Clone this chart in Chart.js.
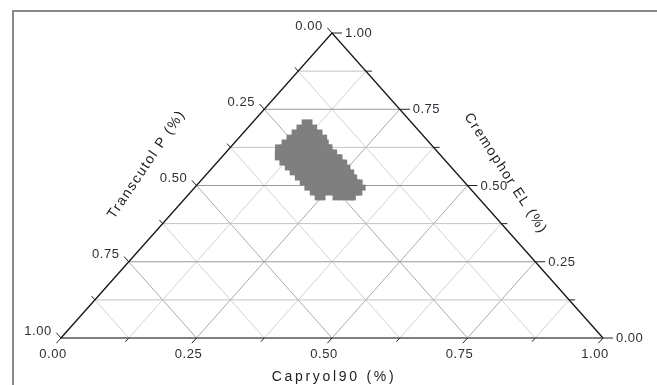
<!DOCTYPE html>
<html>
<head>
<meta charset="utf-8">
<script src="https://cdn.jsdelivr.net/npm/chart.js@4.4.1/dist/chart.umd.min.js"></script>
<style>
  html, body { margin: 0; padding: 0; background: #fff; }
  #wrap { position: relative; width: 657px; height: 385px; overflow: hidden; }
  #frame { position: absolute; left: 12px; top: 10px; width: 700px; height: 400px;
           border-top: 2px solid #8a8a8a; border-left: 2px solid #8a8a8a; }
  canvas { position: absolute; left: 0; top: 0; }
</style>
</head>
<body>
<div id="wrap">
  <div id="frame"></div>
  <canvas id="grafico" width="657" height="385"></canvas>
</div>
<script>
// ternary axes: Capryol90 (bottom), Transcutol P (left), Cremophor EL (right)
const majorTicks = [0, 0.25, 0.5, 0.75, 1];
const minorTicks = [0.125, 0.375, 0.625, 0.875];
const tickLabels = ['0.00', '0.25', '0.50', '0.75', '1.00'];

// region of compositions, one row per Cremophor EL level
const cremophorRows = [0.707, 0.690, 0.674, 0.657, 0.641, 0.625, 0.608, 0.592,
                       0.575, 0.559, 0.543, 0.526, 0.510, 0.493, 0.477, 0.461];
const capryolRows = [
  [0.096, 0.105],
  [0.095, 0.104, 0.113, 0.122],
  [0.094, 0.103, 0.112, 0.121, 0.130, 0.140],
  [0.093, 0.102, 0.111, 0.120, 0.130, 0.139, 0.148, 0.157],
  [0.092, 0.101, 0.110, 0.119, 0.129, 0.138, 0.147, 0.156, 0.165, 0.168],
  [0.088, 0.097, 0.106, 0.115, 0.124, 0.134, 0.143, 0.152, 0.161, 0.171, 0.180, 0.183],
  [0.096, 0.105, 0.114, 0.123, 0.133, 0.142, 0.151, 0.160, 0.169, 0.179, 0.188, 0.197, 0.200],
  [0.104, 0.113, 0.122, 0.131, 0.141, 0.150, 0.159, 0.168, 0.178, 0.187, 0.196, 0.205, 0.215, 0.218],
  [0.121, 0.130, 0.140, 0.149, 0.158, 0.167, 0.177, 0.186, 0.195, 0.204, 0.213, 0.223, 0.232, 0.235],
  [0.139, 0.148, 0.157, 0.166, 0.176, 0.185, 0.194, 0.203, 0.212, 0.222, 0.231, 0.240, 0.249],
  [0.156, 0.165, 0.175, 0.184, 0.193, 0.202, 0.211, 0.221, 0.230, 0.239, 0.248, 0.258, 0.264],
  [0.174, 0.183, 0.192, 0.201, 0.210, 0.220, 0.229, 0.238, 0.247, 0.257, 0.266, 0.275, 0.278],
  [0.191, 0.200, 0.209, 0.219, 0.228, 0.237, 0.246, 0.256, 0.265, 0.274, 0.283, 0.292, 0.296],
  [0.208, 0.218, 0.227, 0.236, 0.245, 0.254, 0.264, 0.273, 0.282, 0.291, 0.301, 0.310],
  [0.226, 0.235, 0.244, 0.253, 0.263, 0.272, 0.281, 0.290, 0.300, 0.309, 0.312],
  [0.243, 0.252, 0.276, 0.286, 0.295, 0.304, 0.308]
];

// capryol c, cremophor r -> cartesian (transcutol = 1 - c - r)
function xy(c, r) { return { x: c + r / 2, y: r }; }
const gap = { x: null, y: null };

var regiao = [];
capryolRows.forEach(function(row, i) {
  row.forEach(function(c) { regiao.push(xy(c, cremophorRows[i])); });
});

function linhasHorizontais(vals) {
  var pts = [];
  vals.forEach(function(v) { pts.push(xy(0, v), xy(1 - v, v), gap); });
  return pts;
}
function linhasDiagonais(vals) {
  var pts = [];
  vals.forEach(function(v) {
    pts.push(xy(v, 0), xy(v, 1 - v), gap);      // constant Capryol90
    pts.push(xy(1 - v, 0), xy(0, 1 - v), gap);  // constant Transcutol P
  });
  return pts;
}
const innerMajor = majorTicks.filter(function(v) { return v > 0 && v < 1; });

const ternaryAxes = {
  id: 'ternaryAxes',
  afterDatasetsDraw: function(chart) {
    const ctx = chart.ctx;
    const sx = chart.scales.x, sy = chart.scales.y;
    const px = function(c, r) { return [sx.getPixelForValue(c + r / 2), sy.getPixelForValue(r)]; };
    const bl = px(0, 0), br = px(1, 0), ap = px(0, 1);
    var lx = ap[0] - bl[0], ly = ap[1] - bl[1], ll = Math.hypot(lx, ly); lx /= ll; ly /= ll;
    var rx = br[0] - ap[0], ry = br[1] - ap[1], rl = Math.hypot(rx, ry); rx /= rl; ry /= rl;

    ctx.save();
    ctx.strokeStyle = '#222';
    ctx.lineWidth = 1;
    const all = majorTicks.concat(minorTicks);
    all.forEach(function(v) {
      const major = majorTicks.indexOf(v) >= 0;
      const len = major ? 7 : 5;
      // bottom: Capryol90
      var p = px(v, 0);
      ctx.beginPath(); ctx.moveTo(p[0], p[1]); ctx.lineTo(p[0] - lx * len, p[1] - ly * len); ctx.stroke();
      // left: Transcutol P
      p = px(0, 1 - v);
      ctx.beginPath(); ctx.moveTo(p[0], p[1]); ctx.lineTo(p[0] - rx * len, p[1] - ry * len); ctx.stroke();
      // right: Cremophor EL
      p = px(1 - v, v);
      ctx.beginPath(); ctx.moveTo(p[0], p[1]); ctx.lineTo(p[0] + (major ? 10 : 6), p[1]); ctx.stroke();
    });

    ctx.fillStyle = '#2e2e36';
    ctx.font = '13px "Liberation Sans", Arial, sans-serif';
    ctx.letterSpacing = '0.5px';
    ctx.textBaseline = 'middle';
    majorTicks.forEach(function(v, i) {
      var p = px(v, 0);
      ctx.textAlign = 'center';
      ctx.fillText(tickLabels[i], p[0] - 8, p[1] + 16);
      p = px(0, 1 - v);
      ctx.fillText(tickLabels[i], p[0] - 23, p[1] - 7);
      p = px(1 - v, v);
      ctx.textAlign = 'left';
      ctx.fillText(tickLabels[i], p[0] + 13, p[1] + 0.5);
    });

    ctx.fillStyle = '#222';
    ctx.font = '14px "Liberation Sans", Arial, sans-serif';
    ctx.textAlign = 'center';
    ctx.letterSpacing = '2.7px';
    ctx.fillText('Capryol90 (%)', (bl[0] + br[0]) / 2 + 2, bl[1] + 39);

    ctx.letterSpacing = '1.5px';
    var m = px(0, 0.5);
    ctx.save();
    ctx.translate(m[0] - 50, m[1] - 21);
    ctx.rotate(-56 * Math.PI / 180);
    ctx.fillText('Transcutol P (%)', 0, 0);
    ctx.restore();

    m = px(0.5, 0.5);
    ctx.save();
    ctx.translate(m[0] + 38, m[1] - 12);
    ctx.rotate(57 * Math.PI / 180);
    ctx.fillText('Cremophor EL (%)', 0, 0);
    ctx.restore();
    ctx.restore();
  }
};

const linha = function(data, cor, largura, ordem) {
  return { data: data, showLine: true, spanGaps: false, borderColor: cor, borderWidth: largura,
           pointRadius: 0, fill: false, clip: false, order: ordem };
};

let chart = new Chart(document.getElementById('grafico'), {
  type: 'scatter',
  data: {
    datasets: [
      { label: 'Região', data: regiao, pointStyle: 'rect', pointRadius: 4.2,
        pointBorderWidth: 0, backgroundColor: '#7f7f7f', borderColor: '#7f7f7f', order: 1 },
      linha([xy(1, 0), xy(0, 1), xy(0, 0)], '#1a1a1a', 1.4, 0),
      linha([xy(0, 0), xy(1, 0)], '#555', 1.6, 0),
      linha(linhasHorizontais(innerMajor), '#989898', 1, 3),
      linha(linhasHorizontais(minorTicks), '#c2c2c2', 1, 4),
      linha(linhasDiagonais(innerMajor), '#aaaaaa', 1, 5),
      linha(linhasDiagonais(minorTicks), '#d2d2d2', 1, 6)
    ]
  },
  options: {
    responsive: false,
    animation: false,
    events: [],
    layout: { padding: { left: 61, right: 54, top: 33, bottom: 47 } },
    scales: {
      x: { type: 'linear', min: 0, max: 1, display: false },
      y: { type: 'linear', min: 0, max: 1, display: false }
    },
    plugins: { legend: { display: false }, tooltip: { enabled: false } }
  },
  plugins: [ternaryAxes]
});
</script>
</body>
</html>
